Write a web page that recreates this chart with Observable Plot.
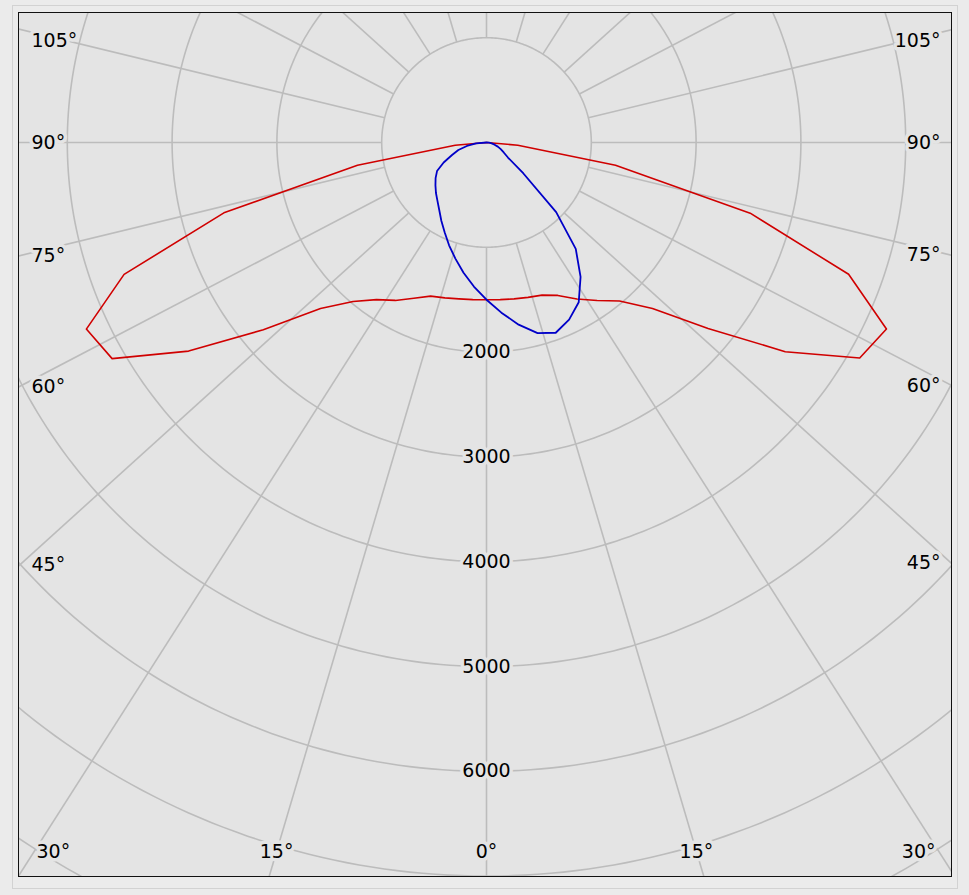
<!DOCTYPE html>
<html><head><meta charset="utf-8">
<script src="https://cdn.jsdelivr.net/npm/d3@7"></script>
<script src="https://cdn.jsdelivr.net/npm/@observablehq/plot@0.6"></script>
<style>
html,body{margin:0;padding:0;background:#ebebeb;}
#outer{position:absolute;left:12px;top:5px;width:944px;height:882px;border:1px solid #d2d2d2;}
#frame{position:absolute;left:18px;top:12px;width:932px;height:863px;border:1px solid #111;overflow:hidden;background:#e4e4e4;}
#frame svg{display:block;overflow:hidden;}
#frame svg text{paint-order:stroke;stroke-linejoin:round;}
</style></head><body>
<div id="outer"></div>
<div id="frame"></div>
<script>
// ---- data (gamma angles in degrees, luminous intensity in cd) ----
const gamma = [0,5,10,15,20,25,30,35,40,45,50,55,60,65,70,75,80,85,90];
const redRight = [1500,1505,1515,1530,1550,1610,1725,1840,1975,2240,2760,3480,4112,4211,3677,2605,1250,300,0];
const redLeft  = [1500,1505,1515,1535,1560,1640,1740,1830,1980,2240,2780,3470,4125,4213,3680,2594,1250,300,0];
const blueRight = [1500,1630,1765,1883,1932,1865,1760,1565,1325,940,460,250,190,150,115,80,50,25,0];
const blueLeft  = [1500,1380,1262,1147,1044,945,862,786,728,682,636,593,545,451,350,278,190,100,0];
const circleValues = [1000,2000,3000,4000,5000,6000,7000,8000];
const circleLabels = [2000,3000,4000,5000,6000];
const gridAngles = [0,15,30,45,60,75,90,105,120,135,150,165,180];
const angleLabels = [0,15,30,45,60,75,90,105];

// ---- layout ----
const W = 932, H = 863, cxp = 467, cyp = 129, s = 0.1048; // px per cd
const K = 0.905; // vertical squeeze of the radial grid lines
const gridColor = "#bcbcbc", bg = "#e4e4e4";
const rad = d => d * Math.PI / 180;

function profile(left, right) {
  const pts = [];
  for (let i = gamma.length - 1; i >= 0; i--)
    pts.push({x: -left[i] * Math.sin(rad(gamma[i])), y: left[i] * Math.cos(rad(gamma[i]))});
  for (let i = 1; i < gamma.length; i++)
    pts.push({x: right[i] * Math.sin(rad(gamma[i])), y: right[i] * Math.cos(rad(gamma[i]))});
  return pts;
}

const circlePts = circleValues.flatMap(R => d3.range(0, 361, 1).map(a => ({R, x: R * Math.sin(rad(a)), y: R * Math.cos(rad(a))})));

const spokes = [];
for (const a of gridAngles) {
  for (const side of (a === 0 || a === 180) ? [1] : [-1, 1]) {
    const dx = side * Math.sin(rad(a)), dy = K * Math.cos(rad(a));
    const n = Math.hypot(dx, dy);
    spokes.push({x1: 1000 * dx / n, y1: 1000 * dy / n, x2: 12000 * dx / n, y2: 12000 * dy / n});
  }
}

// frame edges in data units
const xL = -cxp / s, xR = (W - cxp) / s, yB = (H - cyp) / s, yT = -cyp / s;
const rowY = yB - 25 / s, topY = yT + 27 / s;
const sideLabels = [], bottomLabels = [];
for (const a of angleLabels) {
  for (const side of a === 0 ? [1] : [-1, 1]) {
    const sx = Math.sin(rad(a)), sy = K * Math.cos(rad(a));
    const edge = side < 0 ? -xL : xR;
    const tSide = sx > 0 ? edge / sx : Infinity;
    const tBot = sy > 0 ? yB / sy : Infinity;
    const text = a + "°";
    if (tBot < tSide) {
      const t = rowY / sy;
      bottomLabels.push({x: side * t * sx, y: rowY, text});
    } else {
      let y = tSide * sy;
      let inset = 12;
      if (y > rowY) { y = rowY; inset = 17; }
      if (y < topY) y = topY;
      const x = side < 0 ? xL + inset / s : xR - (inset - 1) / s;
      sideLabels.push({x, y, text, anchor: side < 0 ? "start" : "end"});
    }
  }
}
const ringLabels = circleLabels.map(v => ({x: 0, y: v, text: String(v)}));

const textOpts = {x: "x", y: "y", text: "text", fontSize: 19, fill: "#000", stroke: bg, strokeWidth: 7, paintOrder: "stroke"};

const chart = Plot.plot({
  width: W, height: H, margin: 0,
  x: {domain: [xL, xR], range: [0, W], axis: null},
  y: {domain: [yT, yB], range: [0, H], axis: null},
  style: {background: "transparent", fontFamily: "'DejaVu Sans', sans-serif", fontSize: "19px", overflow: "hidden"},
  marks: [
    Plot.line(circlePts, {x: "x", y: "y", z: "R", stroke: gridColor, strokeWidth: 1.6}),
    Plot.link(spokes, {x1: "x1", y1: "y1", x2: "x2", y2: "y2", stroke: gridColor, strokeWidth: 1.6}),
    Plot.line(profile(redLeft, redRight), {x: "x", y: "y", stroke: "#d00000", strokeWidth: 1.6}),
    Plot.line(profile(blueLeft, blueRight), {x: "x", y: "y", stroke: "#0000c8", strokeWidth: 1.8}),
    Plot.text(ringLabels, {...textOpts, textAnchor: "middle"}),
    Plot.text(bottomLabels, {...textOpts, textAnchor: "middle"}),
    Plot.text(sideLabels.filter(d => d.anchor === "start"), {...textOpts, textAnchor: "start"}),
    Plot.text(sideLabels.filter(d => d.anchor === "end"), {...textOpts, textAnchor: "end"})
  ]
});
document.getElementById("frame").appendChild(chart);
</script>
</body></html>
